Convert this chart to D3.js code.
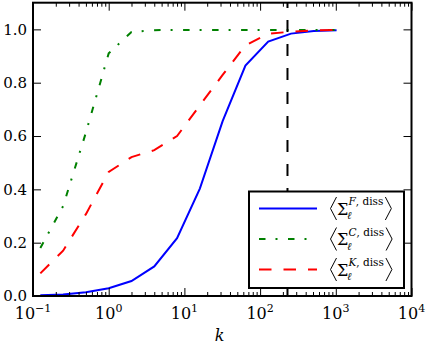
<!DOCTYPE html>
<html>
<head>
<meta charset="utf-8">
<script src="https://cdn.jsdelivr.net/npm/d3@7"></script>
<style>
    html, body { margin: 0; padding: 0; background: #fff; }
    svg { display: block; font-family: "DejaVu Serif", serif; }
</style>
</head>
<body>
<svg id="chart"></svg>
<script>
// k values (powers of two) and the three dissipation curves
const kValues = [0.125, 0.25, 0.5, 1, 2, 4, 8, 16, 32, 64, 128, 256, 512, 1024];
const sigmaF = [0.003, 0.006, 0.014, 0.029, 0.056, 0.111, 0.217, 0.403, 0.656, 0.864, 0.954, 0.984, 0.994, 0.997];
const sigmaC = [0.18, 0.337, 0.613, 0.91, 0.99, 0.997, 0.998, 0.998, 0.998, 0.998, 0.998, 0.998, 0.998, 0.998];
const sigmaK = [0.085, 0.17, 0.307, 0.465, 0.521, 0.547, 0.6, 0.715, 0.829, 0.94, 0.984, 0.991, 0.996, 0.998];
const seriesLetters = ["F", "C", "K"];
const kMark = 230;

const xTickValues = [0.1, 1, 10, 100, 1000, 10000];
const xTickExponents = ["\u22121", "0", "1", "2", "3", "4"];
const yTickValues = [0, 0.2, 0.4, 0.6, 0.8, 1.0];
const yTickLabels = ["0.0", "0.2", "0.4", "0.6", "0.8", "1.0"];

const config = {
    width: 426,
    height: 346,
    margin: { top: 2.7, right: 14.5, bottom: 50, left: 33 }
};
const innerW = config.width - config.margin.left - config.margin.right;
const innerH = config.height - config.margin.top - config.margin.bottom;

const svg = d3.select("#chart")
    .attr("width", config.width)
    .attr("height", config.height);

const g = svg.append("g")
    .attr("transform", `translate(${config.margin.left},${config.margin.top})`);

// Scales
const xScale = d3.scaleLog().domain([0.1, 1e4]).range([0, innerW]);
const yScale = d3.scaleLinear().domain([0, 1.1]).range([innerH, 0]);

// Series definitions
const series = [
    { letter: seriesLetters[0], values: sigmaF, color: "#0000ff", dash: null },
    { letter: seriesLetters[1], values: sigmaC, color: "#008000", dash: "6.5,10,2,10.5" },
    { letter: seriesLetters[2], values: sigmaK, color: "#ff0000", dash: "12.5,12" }
];

const line = d3.line()
    .x(d => xScale(d.k))
    .y(d => yScale(d.v));

series.forEach(s => {
    const pts = kValues.map((k, i) => ({ k: k, v: s.values[i] }));
    g.append("path")
        .datum(pts)
        .attr("fill", "none")
        .attr("stroke", s.color)
        .attr("stroke-width", 2)
        .attr("stroke-dasharray", s.dash)
        .attr("d", line);
});

// Vertical dashed marker, drawn bottom to top
g.append("line")
    .attr("x1", xScale(kMark)).attr("x2", xScale(kMark))
    .attr("y1", innerH).attr("y2", 0)
    .attr("stroke", "black")
    .attr("stroke-width", 2)
    .attr("stroke-dasharray", "12,12");

// Minor log ticks
const minorTicks = [];
for (let e = -1; e < 4; e++) {
    for (let m = 2; m <= 9; m++) minorTicks.push(m * Math.pow(10, e));
}

// Ticks point inwards on all four sides
const tickGroups = [
    { axis: d3.axisBottom(xScale).tickValues(xTickValues).tickSize(-8), t: `translate(0,${innerH})` },
    { axis: d3.axisBottom(xScale).tickValues(minorTicks).tickSize(-4), t: `translate(0,${innerH})` },
    { axis: d3.axisTop(xScale).tickValues(xTickValues).tickSize(-8), t: "translate(0,0)" },
    { axis: d3.axisTop(xScale).tickValues(minorTicks).tickSize(-4), t: "translate(0,0)" },
    { axis: d3.axisLeft(yScale).tickValues(yTickValues).tickSize(-8), t: "translate(0,0)" },
    { axis: d3.axisRight(yScale).tickValues(yTickValues).tickSize(-8), t: `translate(${innerW},0)` }
];
tickGroups.forEach(tg => {
    const a = g.append("g")
        .attr("transform", tg.t)
        .call(tg.axis.tickFormat(""));
    a.select(".domain").remove();
    a.selectAll(".tick line").attr("stroke", "black").attr("stroke-width", 1);
});

// Y tick labels
g.selectAll(".ylab")
    .data(yTickValues)
    .enter()
    .append("text")
    .attr("class", "ylab")
    .attr("x", -6)
    .attr("y", d => yScale(d))
    .attr("dy", "0.36em")
    .attr("text-anchor", "end")
    .attr("font-size", 15)
    .text((d, i) => yTickLabels[i]);

// X tick labels: 10 with superscript exponent
xTickValues.forEach((v, i) => {
    const t = g.append("text")
        .attr("x", xScale(v))
        .attr("y", innerH + 23.5)
        .attr("text-anchor", "middle")
        .attr("font-size", 16);
    t.append("tspan").text("10");
    t.append("tspan")
        .attr("font-size", 11)
        .attr("dy", -7)
        .text(xTickExponents[i]);
});

// Axis label
svg.append("text")
    .attr("x", 219.5)
    .attr("y", 341)
    .attr("text-anchor", "middle")
    .attr("font-size", 16)
    .attr("font-style", "italic")
    .text("k");

// Spines
g.append("rect")
    .attr("width", innerW)
    .attr("height", innerH)
    .attr("fill", "none")
    .attr("stroke", "black")
    .attr("stroke-width", 2);

// Legend
const legend = svg.append("g").attr("transform", "translate(249,191.5)");
legend.append("rect")
    .attr("width", 155)
    .attr("height", 96.5)
    .attr("fill", "white")
    .attr("stroke", "black")
    .attr("stroke-width", 2);

const rowY = [17, 47.5, 78];
series.forEach((s, i) => {
    const cy = rowY[i];
    legend.append("line")
        .attr("x1", 10).attr("x2", 68)
        .attr("y1", cy).attr("y2", cy)
        .attr("stroke", s.color)
        .attr("stroke-width", 2)
        .attr("stroke-dasharray", s.dash);

    // left angle bracket
    legend.append("path")
        .attr("d", `M${87.5},${cy - 11.5} L${81.5},${cy} L${87.5},${cy + 11.5}`)
        .attr("fill", "none")
        .attr("stroke", "black")
        .attr("stroke-width", 1);

    legend.append("text")
        .attr("x", 88)
        .attr("y", cy + 6)
        .attr("font-size", 16)
        .text("\u03A3");
    legend.append("text")
        .attr("x", 98)
        .attr("y", cy + 10.5)
        .attr("font-size", 10.5)
        .attr("font-style", "italic")
        .text("\u2113");
    const sup = legend.append("text")
        .attr("x", 99.5)
        .attr("y", cy - 3.5)
        .attr("font-size", 10.5);
    sup.append("tspan").attr("font-style", "italic").text(s.letter);
    sup.append("tspan").text(", diss");

    const endX = 99.5 + sup.node().getComputedTextLength() + 2;
    legend.append("path")
        .attr("d", `M${endX},${cy - 11.5} L${endX + 6},${cy} L${endX},${cy + 11.5}`)
        .attr("fill", "none")
        .attr("stroke", "black")
        .attr("stroke-width", 1);
});
</script>
</body>
</html>
